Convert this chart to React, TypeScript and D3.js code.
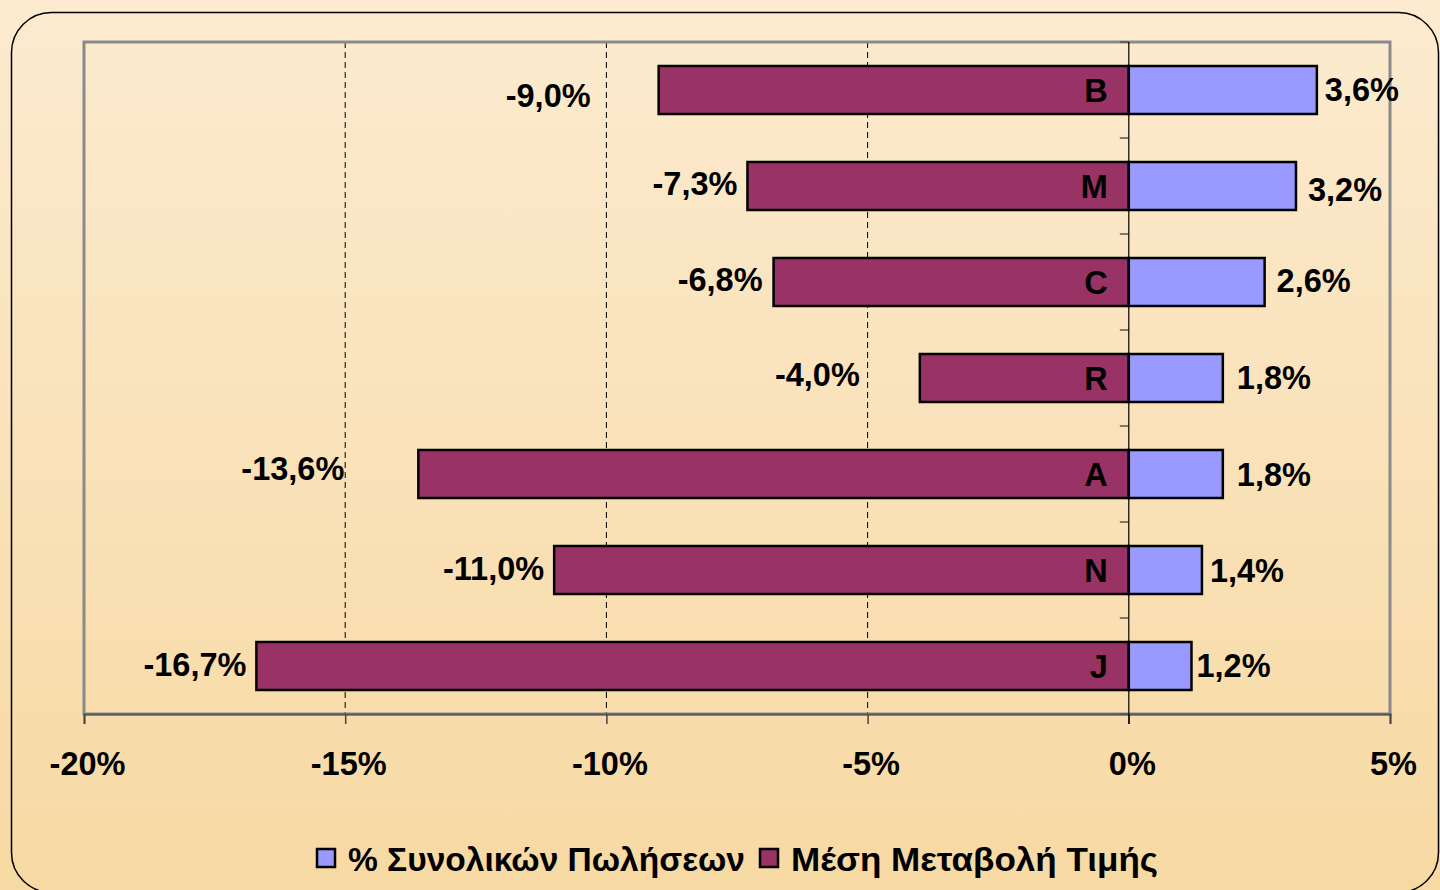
import React, { useEffect, useRef } from 'react';
import * as d3 from 'd3';

const categories = ['B', 'M', 'C', 'R', 'A', 'N', 'J'];
const priceChange = [-9.0, -7.3, -6.8, -4.0, -13.6, -11.0, -16.7];
const salesShare = [3.6, 3.2, 2.6, 1.8, 1.8, 1.4, 1.2];
const xTicks = [-20, -15, -10, -5, 0, 5];
const seriesNames = ['% Συνολικών Πωλήσεων', 'Μέση Μεταβολή Τιμής'];

// hand-placed label nudges, like the original sheet
const negGap = [68, 10, 11, 60, 74, 10, 10];
const negDy = [5, -3, -3, -4, -6, -2, -2];
const posGap = [8, 12, 12, 14, 14, 8, 5];
const posDy = [-1, 3, -2, -1, 0, 0, -1];

const fmt = (v: number) => v.toFixed(1).replace('.', ',') + '%';

const App = () => {
  const ref = useRef<SVGSVGElement | null>(null);
  const width = 1440;
  const height = 890;
  const margin = { top: 42, right: 50, bottom: 176, left: 84 };

  useEffect(() => {
    document.body.style.margin = '0';
    const svg = d3.select(ref.current);
    svg.selectAll('*').remove();

    const font = '"Liberation Sans", Arial, sans-serif';
    const fs = 32.5;
    const innerW = width - margin.left - margin.right;
    const innerH = height - margin.top - margin.bottom;

    const defs = svg.append('defs');
    const grad = defs.append('linearGradient')
      .attr('id', 'bg').attr('x1', 0).attr('y1', 0).attr('x2', 0).attr('y2', 1);
    grad.append('stop').attr('offset', '0%').attr('stop-color', '#fcebd0');
    grad.append('stop').attr('offset', '100%').attr('stop-color', '#f7d9a3');

    svg.append('rect').attr('width', width).attr('height', height).attr('fill', 'url(#bg)');
    svg.append('rect')
      .attr('x', 11.5).attr('y', 12.5).attr('width', 1427).attr('height', 880)
      .attr('rx', 40).attr('fill', 'none').attr('stroke', '#000').attr('stroke-width', 1.5);

    const x = d3.scaleLinear().domain([-20, 5]).range([0, innerW]);
    const y = d3.scaleBand().domain(categories).range([0, innerH]).paddingInner(0.5).paddingOuter(0.25);

    const g = svg.append('g').attr('transform', `translate(${margin.left},${margin.top})`);

    // dashed gridlines
    g.selectAll('.grid')
      .data(xTicks.filter((t) => t > -20 && t < 0))
      .enter()
      .append('line')
      .attr('x1', (d) => x(d)).attr('x2', (d) => x(d))
      .attr('y1', 0).attr('y2', innerH)
      .attr('stroke', '#000').attr('stroke-width', 1).attr('stroke-dasharray', '6,4');

    // plot border
    g.append('rect')
      .attr('width', innerW).attr('height', innerH)
      .attr('fill', 'none').attr('stroke', '#8a8a8a').attr('stroke-width', 3);

    // x axis
    const xAxis = d3.axisBottom(x).tickValues(xTicks).tickSize(10).tickFormat((d) => `${d}%`);
    const ax = g.append('g').attr('transform', `translate(0,${innerH})`).call(xAxis);
    ax.select('.domain').attr('stroke', '#555').attr('stroke-width', 2);
    ax.selectAll('.tick line').attr('stroke', '#444').attr('stroke-width', 1.5);
    ax.selectAll('.tick text')
      .attr('fill', '#000').attr('font-family', font).attr('font-weight', 'bold')
      .attr('font-size', fs).attr('dy', 0).attr('y', 61).attr('dx', 3);

    // category ticks on the zero line
    const bounds = d3.range(categories.length + 1).map((i) => i * (innerH / categories.length));
    g.selectAll('.ytick')
      .data(bounds)
      .enter()
      .append('line')
      .attr('x1', x(0) - 9).attr('x2', x(0))
      .attr('y1', (d) => d).attr('y2', (d) => d)
      .attr('stroke', '#555').attr('stroke-width', 1.5);

    const rows = categories.map((c, i) => ({ c, i, neg: priceChange[i], pos: salesShare[i] }));

    g.selectAll('.neg')
      .data(rows)
      .enter()
      .append('rect')
      .attr('x', (d) => x(d.neg))
      .attr('y', (d) => y(d.c)!)
      .attr('width', (d) => x(0) - x(d.neg))
      .attr('height', y.bandwidth())
      .attr('fill', '#993366').attr('stroke', '#000').attr('stroke-width', 2.5);

    g.selectAll('.pos')
      .data(rows)
      .enter()
      .append('rect')
      .attr('x', x(0))
      .attr('y', (d) => y(d.c)!)
      .attr('width', (d) => x(d.pos) - x(0))
      .attr('height', y.bandwidth())
      .attr('fill', '#9999ff').attr('stroke', '#000').attr('stroke-width', 2.5);

    // zero line
    g.append('line')
      .attr('x1', x(0)).attr('x2', x(0)).attr('y1', 0).attr('y2', innerH + 10)
      .attr('stroke', '#000').attr('stroke-width', 1.2);

    const mid = (d: { c: string }) => y(d.c)! + y.bandwidth() / 2;
    const textStyle = (sel: any) =>
      sel.attr('font-family', font).attr('font-weight', 'bold').attr('font-size', fs).attr('fill', '#000');

    g.selectAll('.cat')
      .data(rows)
      .enter()
      .append('text')
      .attr('x', x(0) - 21)
      .attr('y', (d) => mid(d) + 11.5)
      .attr('text-anchor', 'end')
      .text((d) => d.c)
      .call(textStyle);

    g.selectAll('.negLabel')
      .data(rows)
      .enter()
      .append('text')
      .attr('x', (d) => x(d.neg) - negGap[d.i])
      .attr('y', (d) => mid(d) + 11.5 + negDy[d.i])
      .attr('text-anchor', 'end')
      .text((d) => fmt(d.neg))
      .call(textStyle);

    g.selectAll('.posLabel')
      .data(rows)
      .enter()
      .append('text')
      .attr('x', (d) => x(d.pos) + posGap[d.i])
      .attr('y', (d) => mid(d) + 11.5 + posDy[d.i])
      .attr('text-anchor', 'start')
      .text((d) => fmt(d.pos))
      .call(textStyle);

    // legend
    const legend = svg.append('g');
    const items = [
      { name: seriesNames[0], color: '#9999ff', x: 317, len: 397 },
      { name: seriesNames[1], color: '#993366', x: 760, len: 367 },
    ];
    items.forEach((it) => {
      legend.append('rect')
        .attr('x', it.x).attr('y', 849).attr('width', 18).attr('height', 18)
        .attr('fill', it.color).attr('stroke', '#000').attr('stroke-width', 2.5);
      legend.append('text')
        .attr('x', it.x + 31).attr('y', 871)
        .attr('textLength', it.len).attr('lengthAdjust', 'spacingAndGlyphs')
        .text(it.name)
        .call(textStyle);
    });
  }, []);

  return <svg ref={ref} width={width} height={height} style={{ display: 'block' }}></svg>;
};

export default App;
